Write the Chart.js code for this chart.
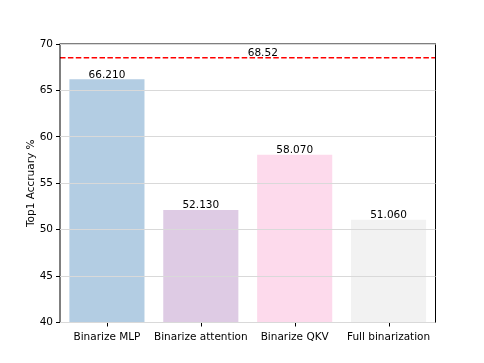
<!DOCTYPE html>
<html>
<head>
<meta charset="utf-8">
<script src="https://cdn.jsdelivr.net/npm/chart.js@4/dist/chart.umd.min.js"></script>
<style>
  html, body { margin: 0; padding: 0; background: #ffffff; }
  #wrap { width: 484px; height: 363px; }
</style>
</head>
<body>
<div id="wrap"><canvas id="c" width="484" height="363"></canvas></div>
<script>
const categories = ['Binarize MLP', 'Binarize attention', 'Binarize QKV', 'Full binarization'];
const accuracy = [66.21, 52.13, 58.07, 51.06];
const barColors = ['#b3cde3', '#decbe4', '#fddaec', '#f2f2f2'];
const baseline = 68.52;
const yTicks = [40, 45, 50, 55, 60, 65, 70];

const FONT = 'DejaVu Sans';
const SIZE = 10.5;

// подписи значений над столбцами, линия базовой точности, засечки по X и рамка
const extras = {
  id: 'extras',
  afterDatasetsDraw(chart) {
    const { ctx, chartArea: a, scales: { x, y } } = chart;
    ctx.save();
    ctx.font = SIZE + 'px "' + FONT + '"';
    ctx.fillStyle = '#000000';
    ctx.textAlign = 'center';
    ctx.textBaseline = 'bottom';
    accuracy.forEach((v, i) => {
      ctx.fillText(v.toFixed(3), x.getPixelForValue(i), y.getPixelForValue(v) + 1);
    });

    const yb = y.getPixelForValue(baseline);
    ctx.strokeStyle = '#ff0000';
    ctx.lineWidth = 1.5;
    ctx.setLineDash([5.5, 2.4]);
    ctx.beginPath();
    ctx.moveTo(a.left, yb);
    ctx.lineTo(a.right, yb);
    ctx.stroke();
    ctx.setLineDash([]);

    ctx.textAlign = 'left';
    ctx.fillText(baseline.toFixed(2), (x.getPixelForValue(1) + x.getPixelForValue(2)) / 2, yb + 1);

    ctx.strokeStyle = '#000000';
    ctx.lineWidth = 1;
    ctx.beginPath();
    categories.forEach((_, i) => {
      const px = Math.round(x.getPixelForValue(i)) + 0.5;
      ctx.moveTo(px, a.bottom);
      ctx.lineTo(px, a.bottom + 4);
    });
    ctx.stroke();
    ctx.strokeRect(a.left, a.top, a.right - a.left, a.bottom - a.top);
    ctx.restore();
  }
};

new Chart(document.getElementById('c'), {
  type: 'bar',
  data: {
    labels: categories,
    datasets: [{
      data: accuracy,
      backgroundColor: barColors,
      borderWidth: 0,
      barPercentage: 0.8,
      categoryPercentage: 1.0
    }]
  },
  options: {
    responsive: false,
    animation: false,
    layout: { padding: { top: 44, right: 48.5, left: 0, bottom: 0 } },
    plugins: {
      legend: { display: false },
      tooltip: { enabled: false }
    },
    scales: {
      x: {
        afterFit(s) { s.height = 40.5; },
        grid: { display: false, tickLength: 4 },
        border: { display: false },
        ticks: { color: '#000000', font: { family: FONT, size: SIZE }, padding: 4, maxRotation: 0, autoSkip: false }
      },
      y: {
        min: 40,
        max: 70,
        afterFit(s) { s.width = 60; },
        afterBuildTicks(s) { s.ticks = yTicks.map(v => ({ value: v })); },
        grid: { color: '#d9d9d9', z: 1, tickLength: 4, tickColor: '#000000' },
        border: { display: false },
        ticks: { color: '#000000', font: { family: FONT, size: SIZE }, padding: 3 },
        title: {
          display: true,
          text: 'Top1 Accruary %',
          color: '#000000',
          font: { family: FONT, size: SIZE },
          padding: { top: 25, bottom: 0 }
        }
      }
    }
  },
  plugins: [extras]
});
</script>
</body>
</html>
